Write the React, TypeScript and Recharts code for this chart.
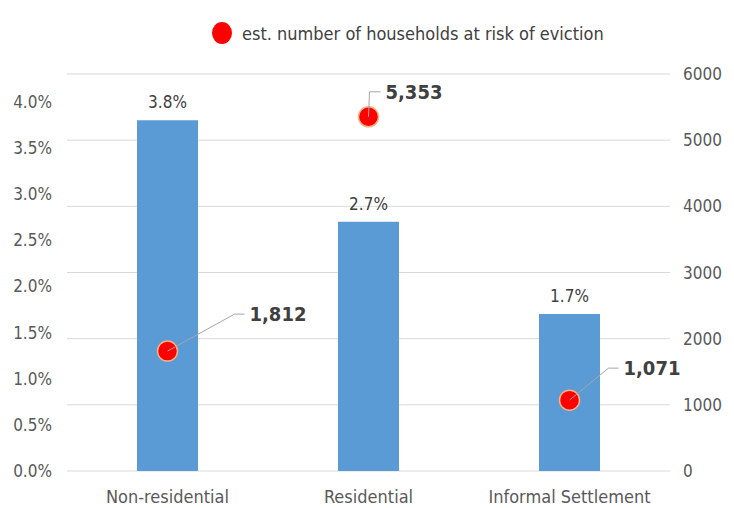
import React from "react";
import {
  ComposedChart,
  Bar,
  Scatter,
  XAxis,
  YAxis,
  CartesianGrid,
  LabelList,
} from "recharts";

const categories = ["Non-residential", "Residential", "Informal Settlement"];
const evictionShare = [3.8, 2.7, 1.7];
const householdsAtRisk = [1812, 5353, 1071];
const shareTicks = [0, 0.5, 1, 1.5, 2, 2.5, 3, 3.5, 4];
const householdTicks = [0, 1000, 2000, 3000, 4000, 5000, 6000];

const chartData = categories.map((name, i) => ({
  name,
  share: evictionShare[i],
  households: householdsAtRisk[i],
}));

// leader line placement for the household labels (elbow offset + short run)
const leaders = [
  { dx: 67, dy: -37, run: 10 },
  { dx: 1, dy: -25, run: 11 },
  { dx: 39, dy: -32, run: 10 },
];

const FONT = "'Liberation Sans Narrow', 'DejaVu Sans Condensed', sans-serif";
const TEXT = "#595959";

const HouseholdDot = (props: any) => {
  const { cx, cy, payload } = props;
  const i = categories.indexOf(payload.name);
  const l = leaders[i] || leaders[0];
  const ex = cx + l.dx;
  const ey = cy + l.dy;
  return (
    <g>
      <circle cx={cx} cy={cy} r={10} fill="#ff0000" stroke="#f4b183" strokeWidth={1.5} />
      <polyline
        points={`${cx},${cy} ${ex},${ey} ${ex + l.run},${ey}`}
        fill="none"
        stroke="#a6a6a6"
        strokeWidth={1}
      />
      <text
        x={ex + l.run + 5}
        y={ey}
        dy="0.36em"
        fontFamily={FONT}
        fontSize={20}
        fontWeight="bold"
        fill="#404040"
      >
        {payload.households.toLocaleString("en-US")}
      </text>
    </g>
  );
};

export default function App() {
  return (
    <div
      style={{
        position: "absolute",
        left: 0,
        top: 0,
        width: 734,
        height: 508,
        background: "#fff",
        fontFamily: FONT,
      }}
    >
      <div
        style={{
          position: "absolute",
          left: 212,
          top: 22,
          display: "flex",
          alignItems: "center",
          gap: 10,
          fontSize: 18,
          color: "#404040",
        }}
      >
        <span
          style={{
            width: 20,
            height: 22,
            borderRadius: "50%",
            background: "#ff0000",
            display: "inline-block",
          }}
        />
        <span>est. number of households at risk of eviction</span>
      </div>
      <ComposedChart
        width={734}
        height={508}
        data={chartData}
        margin={{ top: 74, right: 0, bottom: 0, left: 0 }}
      >
        <CartesianGrid vertical={false} yAxisId="right" stroke="#d9d9d9" />
        <XAxis
          dataKey="name"
          axisLine={false}
          tickLine={false}
          tickSize={0}
          tickMargin={19}
          height={37}
          tick={{ fontSize: 18, fill: TEXT, fontFamily: FONT }}
        />
        <YAxis
          yAxisId="left"
          orientation="left"
          width={67}
          domain={[0, 4.3]}
          ticks={shareTicks}
          axisLine={false}
          tickLine={false}
          tickSize={0}
          tickMargin={15}
          tickFormatter={(v: number) => `${v.toFixed(1)}%`}
          tick={{ fontSize: 17, fill: TEXT, fontFamily: FONT }}
        />
        <YAxis
          yAxisId="right"
          orientation="right"
          width={64}
          domain={[0, 6000]}
          ticks={householdTicks}
          axisLine={false}
          tickLine={false}
          tickSize={0}
          tickMargin={13}
          textAnchor="start"
          tick={{ fontSize: 17, fill: TEXT, fontFamily: FONT }}
        />
        <Bar
          yAxisId="left"
          dataKey="share"
          fill="#5b9bd5"
          barSize={61}
          isAnimationActive={false}
        >
          <LabelList
            dataKey="share"
            position="top"
            offset={12}
            formatter={(v: any) => `${Number(v).toFixed(1)}%`}
            style={{ fontSize: 17, fill: "#404040", fontFamily: FONT }}
          />
        </Bar>
        <Scatter
          yAxisId="right"
          dataKey="households"
          shape={HouseholdDot}
          isAnimationActive={false}
        />
      </ComposedChart>
    </div>
  );
}
